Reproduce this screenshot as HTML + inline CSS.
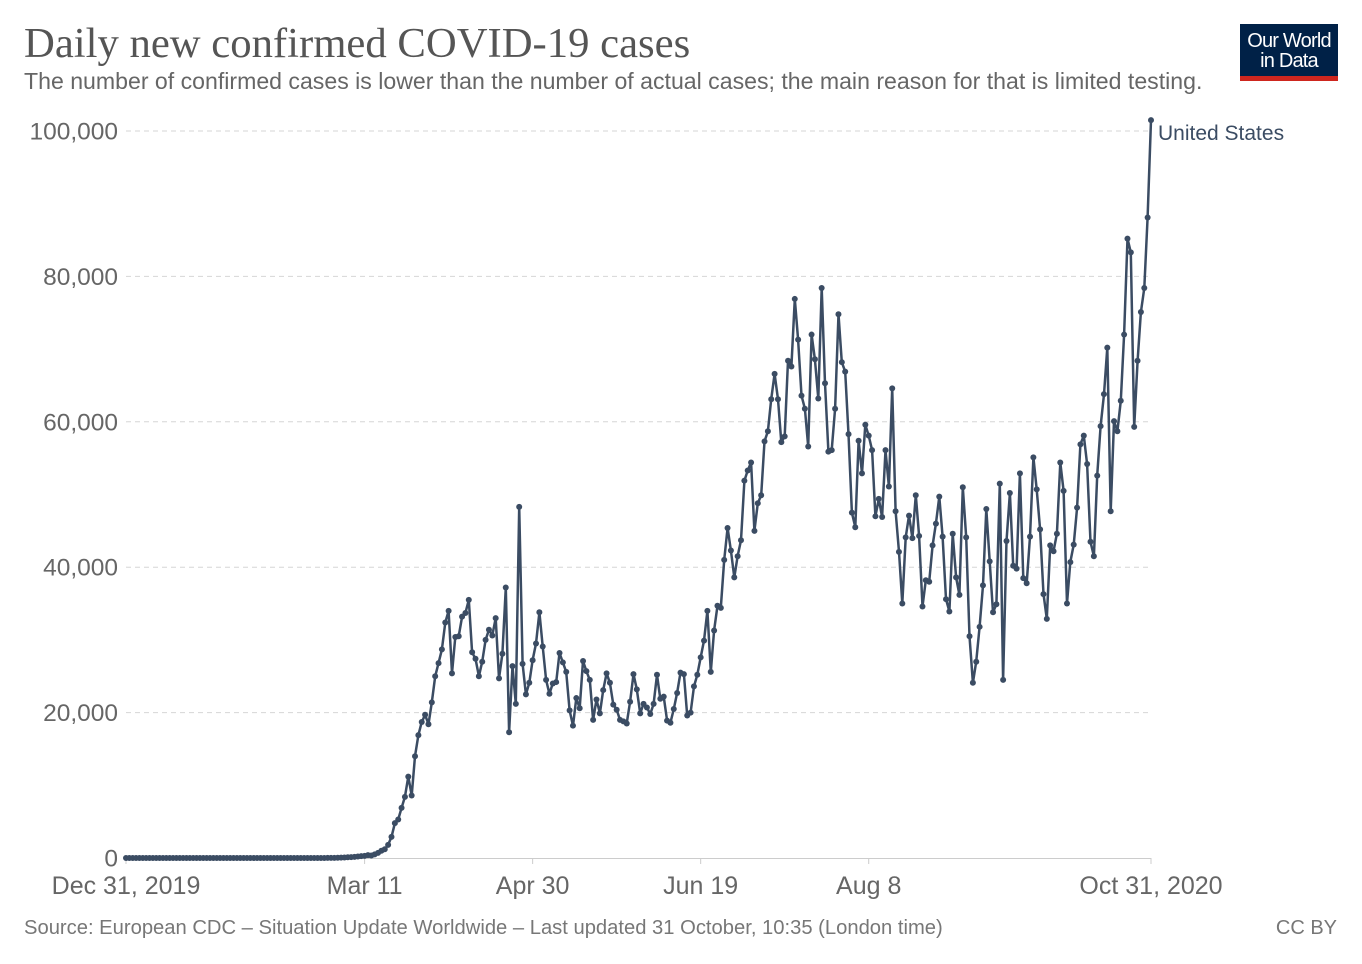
<!DOCTYPE html>
<html><head><meta charset="utf-8"><style>
body{margin:0;background:#fff;width:1362px;height:964px;overflow:hidden;font-family:"Liberation Sans",sans-serif}
svg{display:block}
</style></head><body>
<svg id="chart" width="1362" height="964">
<text x="24" y="57" font-family="Liberation Serif,serif" font-size="42.7" fill="#555">Daily new confirmed COVID-19 cases</text>
<text x="24" y="89" font-size="23.1" fill="#666">The number of confirmed cases is lower than the number of actual cases; the main reason for that is limited testing.</text>
<g>
<rect x="1240" y="24" width="98" height="52" fill="#002147"/>
<rect x="1240" y="76" width="98" height="5" fill="#ce261e"/>
<text x="1289" y="47" font-size="20" fill="#fff" text-anchor="middle" letter-spacing="-0.8">Our World</text>
<text x="1289" y="67" font-size="20" fill="#fff" text-anchor="middle" letter-spacing="-0.8">in Data</text>
</g>
<g id="grid"></g><g id="yaxis"></g><g id="xaxis"></g><g id="series"></g>
<text x="24" y="934" font-size="20.2" fill="#777">Source: European CDC – Situation Update Worldwide – Last updated 31 October, 10:35 (London time)</text>
<text x="1337" y="934" font-size="20" fill="#777" text-anchor="end">CC BY</text>
</svg>
<script>
const yTicks=[0,20000,40000,60000,80000,100000];
const xTickDays=[0,71,121,171,221,305];
const xTickLabels=["Dec 31, 2019","Mar 11","Apr 30","Jun 19","Aug 8","Oct 31, 2020"];
const seriesName="United States";
const cases=[0,0,0,0,0,0,0,0,0,0,0,0,0,0,0,0,0,0,0,0,0,0,0,0,0,0,0,0,0,0,
0,0,0,0,0,0,0,0,0,0,0,0,0,0,0,0,0,0,0,0,0,0,0,0,0,0,0,0,0,0,
0.01,0.01,0.02,0.03,0.05,0.07,0.1,0.12,0.15,0.2,0.25,0.3,0.4,0.35,
0.5,0.7,1,1.2,1.8,2.9,4.8,5.3,6.9,8.4,11.2,8.6,14,16.9,18.7,19.7,18.4,21.4,25,26.8,28.7,32.4,34,25.4,30.4,30.5,33.2,33.7,35.5,28.3,27.4,25,27,30,31.4,30.6,33,24.7,28.1,37.2,17.3,26.4,21.2,48.3,26.7,22.5,24.1,27.2,29.5,33.8,29.1,24.5,22.6,24,24.2,28.2,26.9,25.6,20.3,18.2,22,20.6,27.1,25.7,24.5,19,21.8,19.9,23.1,25.4,24.1,21.1,20.4,19,18.8,18.5,21.5,25.3,23.2,19.9,21.2,20.7,19.8,21.2,25.2,21.9,22.2,18.9,18.6,20.5,22.7,25.5,25.3,19.6,20,23.6,25.2,27.6,29.9,34,25.6,31.3,34.7,34.4,41,45.4,42.3,38.6,41.5,43.7,51.9,53.3,54.4,45,48.8,49.9,57.3,58.7,63.1,66.6,63.1,57.2,58,68.4,67.6,76.9,71.3,63.6,61.8,56.6,72,68.6,63.2,78.4,65.3,55.9,56.1,61.8,74.8,68.2,66.9,58.3,47.5,45.5,57.4,52.9,59.6,58.1,56.1,47,49.4,46.9,56.1,51.1,64.6,47.7,42.1,35,44.1,47.1,44,49.9,44.3,34.6,38.2,38,43,46,49.7,44.2,35.6,33.9,44.6,38.6,36.2,51,44.1,30.5,24.1,27,31.8,37.5,48,40.8,33.8,34.9,51.5,24.5,43.6,50.2,40.2,39.8,52.9,38.5,37.8,44.2,55.1,50.7,45.2,36.3,32.9,43,42.2,44.6,54.4,50.5,35,40.7,43.1,48.2,56.9,58.1,54.2,43.5,41.5,52.6,59.4,63.8,70.2,47.7,60.1,58.7,62.9,72,85.2,83.3,59.3,68.4,75.1,78.4,88.1,101.5];
const NS="http://www.w3.org/2000/svg";
const X0=126,X1=1151,Y0=858,Y1=131;
const xs=d=>X0+(X1-X0)*d/305;
const ys=v=>Y0-(Y0-Y1)*v/100000;
function mk(tag,attrs,parent){const e=document.createElementNS(NS,tag);for(const k in attrs)e.setAttribute(k,attrs[k]);parent.appendChild(e);return e;}
const grid=document.getElementById('grid'),ya=document.getElementById('yaxis'),xa=document.getElementById('xaxis'),sg=document.getElementById('series');
yTicks.forEach(t=>{
  if(t>0){const g=mk('line',{x1:X0,x2:1150,y1:ys(t),y2:ys(t),stroke:'#d6d6d6','stroke-dasharray':'5,4'},grid);
  
  }
  const l=mk('text',{x:118,y:ys(t)+8.5,'font-size':24.5,fill:'#666','text-anchor':'end'},ya);
  l.textContent=t.toLocaleString('en-US');
  
  
});
const ax=mk('line',{x1:X0,x2:1151,y1:Y0+0.5,y2:Y0+0.5,stroke:'#ccc'},xa);


xTickDays.forEach((d,i)=>{
  const tk=mk('line',{x1:xs(d),x2:xs(d),y1:Y0,y2:Y0+6,stroke:'#ccc'},xa);
  
  
  const t=mk('text',{x:xs(d),y:Y0+36,'font-size':25,fill:'#666','text-anchor':'middle'},xa);
  t.textContent=xTickLabels[i];
  
  
});
const n=cases.length;
const pts=cases.map((v,i)=>[xs(305-(n-1-i)),ys(v*1000)]);
const path=mk('polyline',{points:pts.map(p=>p[0].toFixed(1)+','+p[1].toFixed(1)).join(' '),fill:'none',stroke:'#3b4c63','stroke-width':2.5,'stroke-linejoin':'round'},sg);


pts.forEach(p=>{
  const c=mk('circle',{cx:p[0],cy:p[1],r:3,fill:'#3b4c63'},sg);
  
  
});
const lab=mk('text',{x:1158,y:140,'font-size':21,fill:'#3b4c63'},sg);
lab.textContent=seriesName;


</script>
</body></html>
